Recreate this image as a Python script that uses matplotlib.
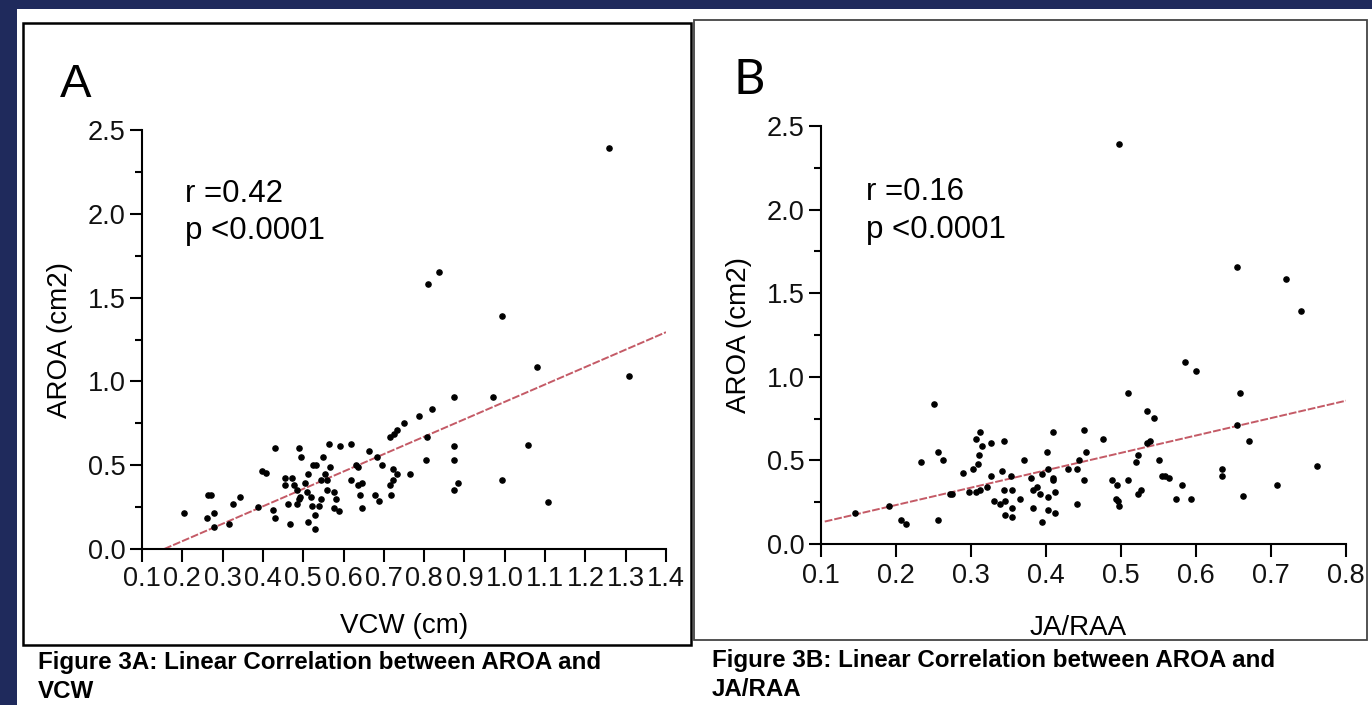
import matplotlib
matplotlib.use('Agg')
import matplotlib.pyplot as plt
from matplotlib.patches import Rectangle
import numpy as np

plt.rcParams['font.family'] = ['Liberation Sans', 'DejaVu Sans']

# Panel A: VCW vs AROA
vcw = [0.203, 0.262, 0.264, 0.270, 0.279, 0.279, 0.316, 0.327, 0.343, 0.389,
       0.397, 0.407, 0.425, 0.429, 0.430, 0.456, 0.456, 0.462, 0.468, 0.473,
       0.478, 0.484, 0.490, 0.485, 0.490, 0.495, 0.492, 0.505, 0.510, 0.512,
       0.511, 0.519, 0.522, 0.525, 0.531, 0.528, 0.528, 0.539, 0.543, 0.544,
       0.549, 0.554, 0.560, 0.560, 0.565, 0.566, 0.577, 0.581, 0.577, 0.588,
       0.592, 0.618, 0.619, 0.630, 0.636, 0.635, 0.647, 0.641, 0.647, 0.662,
       0.679, 0.683, 0.689, 0.696, 0.716, 0.722, 0.716, 0.717, 0.723, 0.726,
       0.733, 0.733, 0.749, 0.765, 0.787, 0.808, 0.804, 0.820, 0.873, 0.873,
       0.873, 0.873, 0.885, 0.970, 0.993, 1.057, 1.107, 0.810, 0.837, 0.994,
       1.079, 1.308, 1.259]
aroa_a = [0.214, 0.187, 0.325, 0.325, 0.214, 0.133, 0.147, 0.270, 0.311, 0.250,
          0.468, 0.452, 0.230, 0.601, 0.187, 0.423, 0.381, 0.270, 0.147, 0.423,
          0.381, 0.353, 0.601, 0.270, 0.298, 0.546, 0.311, 0.395, 0.339, 0.448,
          0.159, 0.311, 0.256, 0.504, 0.504, 0.200, 0.117, 0.256, 0.298, 0.409,
          0.546, 0.450, 0.353, 0.409, 0.629, 0.490, 0.339, 0.298, 0.242, 0.228,
          0.615, 0.629, 0.409, 0.504, 0.490, 0.381, 0.395, 0.325, 0.244, 0.587,
          0.325, 0.546, 0.284, 0.504, 0.671, 0.476, 0.381, 0.325, 0.409, 0.685,
          0.712, 0.448, 0.754, 0.448, 0.796, 0.671, 0.532, 0.837, 0.907, 0.615,
          0.532, 0.353, 0.395, 0.907, 0.410, 0.620, 0.280, 1.583, 1.650, 1.389,
          1.085, 1.030, 2.390]
fit_a_x = [0.155, 1.40]
fit_a_slope, fit_a_icpt = 1.039, -0.161

# Panel B: JA/RAA vs AROA
jaraa = [0.145, 0.190, 0.207, 0.213, 0.233, 0.251, 0.256, 0.256, 0.263, 0.272,
         0.275, 0.289, 0.297, 0.303, 0.306, 0.306, 0.309, 0.310, 0.312, 0.312,
         0.315, 0.321, 0.327, 0.327, 0.330, 0.339, 0.341, 0.344, 0.344, 0.345,
         0.345, 0.353, 0.354, 0.354, 0.354, 0.365, 0.371, 0.380, 0.383, 0.382,
         0.388, 0.392, 0.394, 0.394, 0.401, 0.403, 0.403, 0.403, 0.409, 0.409,
         0.409, 0.412, 0.412, 0.429, 0.441, 0.441, 0.444, 0.450, 0.450, 0.453,
         0.476, 0.488, 0.494, 0.493, 0.496, 0.497, 0.509, 0.509, 0.520, 0.523,
         0.523, 0.527, 0.535, 0.538, 0.535, 0.544, 0.550, 0.555, 0.558, 0.564,
         0.573, 0.581, 0.593, 0.634, 0.634, 0.497, 0.655, 0.720, 0.740, 0.585,
         0.600, 0.658, 0.655, 0.670, 0.761, 0.708, 0.662]
aroa_b = [0.187, 0.229, 0.145, 0.118, 0.492, 0.837, 0.548, 0.145, 0.504, 0.297,
          0.297, 0.422, 0.311, 0.450, 0.629, 0.311, 0.478, 0.532, 0.671, 0.325,
          0.588, 0.339, 0.602, 0.408, 0.255, 0.241, 0.436, 0.616, 0.325, 0.255,
          0.173, 0.408, 0.325, 0.213, 0.159, 0.269, 0.504, 0.394, 0.213, 0.325,
          0.339, 0.297, 0.420, 0.131, 0.548, 0.448, 0.283, 0.201, 0.671, 0.394,
          0.380, 0.311, 0.187, 0.450, 0.450, 0.241, 0.504, 0.683, 0.380, 0.548,
          0.629, 0.380, 0.353, 0.269, 0.255, 0.227, 0.380, 0.906, 0.492, 0.532,
          0.297, 0.325, 0.602, 0.616, 0.797, 0.755, 0.504, 0.408, 0.408, 0.394,
          0.269, 0.353, 0.269, 0.450, 0.408, 2.391, 1.656, 1.586, 1.393, 1.088,
          1.032, 0.906, 0.713, 0.616, 0.464, 0.353, 0.285]
fit_b_x = [0.105, 0.80]
fit_b_slope, fit_b_icpt = 1.04, 0.025

W, H = 1372, 705
fig = plt.figure(figsize=(W / 100, H / 100), dpi=100, facecolor='white')

def fx(px):
    return px / W

def fy(py):
    return 1 - py / H

navy = '#1f2a5c'
fig.patches.append(Rectangle((0, 0), fx(17), 1, transform=fig.transFigure,
                             facecolor=navy, edgecolor='none', zorder=0))
fig.patches.append(Rectangle((0, fy(9)), 1, 9 / H, transform=fig.transFigure,
                             facecolor=navy, edgecolor='none', zorder=0))
# panel frames
fig.patches.append(Rectangle((fx(23), fy(645)), fx(668), 622 / H, transform=fig.transFigure,
                             facecolor='none', edgecolor='black', linewidth=1.8, zorder=1))
fig.patches.append(Rectangle((fx(694), fy(640)), fx(673), 620 / H, transform=fig.transFigure,
                             facecolor='none', edgecolor='#444444', linewidth=1.3, zorder=1))


def style_axes(ax, xticks, xlim):
    ax.set_xlim(*xlim)
    ax.set_ylim(0, 2.5)
    ax.set_xticks(xticks)
    ax.set_xticklabels([f'{t:.1f}' for t in xticks])
    ax.set_yticks([0, 0.5, 1.0, 1.5, 2.0, 2.5])
    ax.set_yticklabels(['0.0', '0.5', '1.0', '1.5', '2.0', '2.5'])
    ax.set_yticks(np.arange(0.25, 2.5, 0.5), minor=True)
    for s in ['top', 'right']:
        ax.spines[s].set_visible(False)
    for s in ['left', 'bottom']:
        ax.spines[s].set_linewidth(1.5)
    ax.tick_params(axis='both', which='major', length=9, width=1.5, labelsize=19.5,
                   pad=3, colors='black', labelcolor='#111111')
    ax.tick_params(axis='y', which='minor', length=5, width=1.5)
    ax.set_facecolor('none')


# Panel A
axa = fig.add_axes([fx(142), fy(549), fx(524), (549 - 130) / H])
axa.scatter(vcw, aroa_a, s=14, color='black', zorder=3, clip_on=False)
fa = np.array(fit_a_x)
axa.plot(fa, fit_a_slope * fa + fit_a_icpt, color='#c45a66', linewidth=1.4,
         linestyle=(0, (4, 1)), zorder=2)
style_axes(axa, np.round(np.arange(0.1, 1.41, 0.1), 1), (0.1, 1.4))
axa.set_xlabel('VCW (cm)', fontsize=20)
axa.set_ylabel('AROA (cm2)', fontsize=20)
axa.xaxis.set_label_coords(0.5, -0.153)
axa.yaxis.set_label_coords(-0.132, 0.5)
axa.text(0.207, 2.12, 'r =0.42', fontsize=22.5, ha='left', va='center')
axa.text(0.207, 1.90, 'p <0.0001', fontsize=22.5, ha='left', va='center')

# Panel B
axb = fig.add_axes([fx(821), fy(544), fx(525), (544 - 126) / H])
axb.scatter(jaraa, aroa_b, s=14, color='black', zorder=3, clip_on=False)
fb = np.array(fit_b_x)
axb.plot(fb, fit_b_slope * fb + fit_b_icpt, color='#c45a66', linewidth=1.4,
         linestyle=(0, (4, 1)), zorder=2)
style_axes(axb, np.round(np.arange(0.1, 0.81, 0.1), 1), (0.1, 0.8))
axb.tick_params(axis='x', which='major', pad=5)
axb.set_xlabel('JA/RAA', fontsize=20)
axb.set_ylabel('AROA (cm2)', fontsize=20)
axb.xaxis.set_label_coords(0.49, -0.170)
axb.yaxis.set_label_coords(-0.131, 0.5)
axb.text(0.16, 2.105, 'r =0.16', fontsize=22.5, ha='left', va='center')
axb.text(0.16, 1.878, 'p <0.0001', fontsize=22.5, ha='left', va='center')

# panel letters
fig.text(fx(60), fy(85), 'A', fontsize=34, ha='left', va='center')
fig.text(fx(734), fy(80), 'B', fontsize=35, ha='left', va='center', family=['Lato', 'DejaVu Sans'])

# captions
fig.text(fx(38), fy(663), 'Figure 3A: Linear Correlation between AROA and', fontsize=17.4,
         fontweight='bold', ha='left', va='center')
fig.text(fx(38), fy(691), 'VCW', fontsize=17.4, fontweight='bold', ha='left', va='center')
fig.text(fx(712), fy(660), 'Figure 3B: Linear Correlation between AROA and', fontsize=17.4,
         fontweight='bold', ha='left', va='center')
fig.text(fx(712), fy(689), 'JA/RAA', fontsize=17.4, fontweight='bold', ha='left', va='center')

fig.savefig('out.png', dpi=100, facecolor=fig.get_facecolor())
